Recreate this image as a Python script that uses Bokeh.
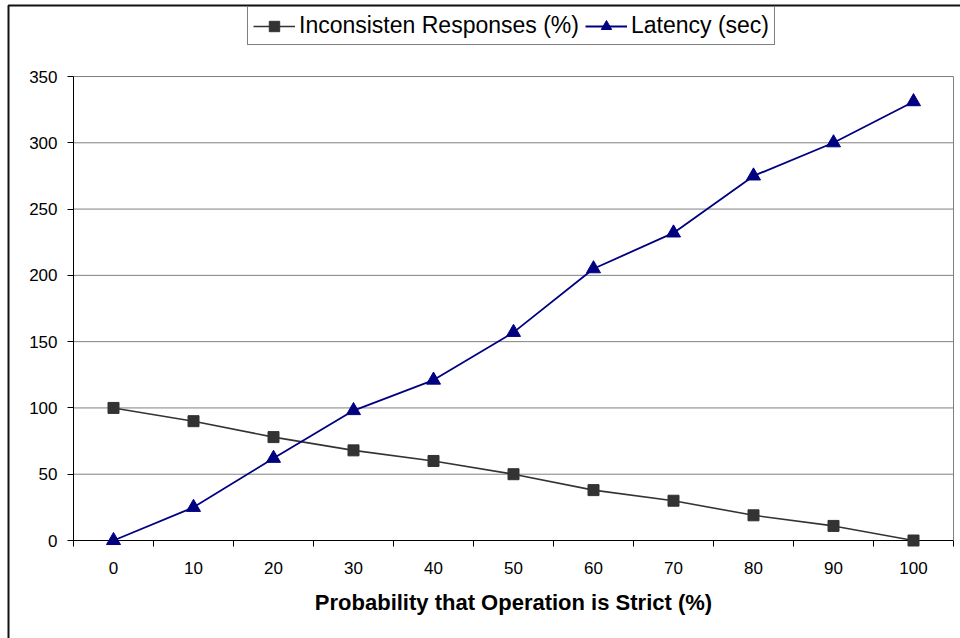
from bokeh.plotting import figure
from bokeh.models import (Range1d, FixedTicker, LinearAxis, Legend, LegendItem,
                          BoxAnnotation)
from bokeh.embed import file_html
from bokeh.resources import INLINE

# Probability that an operation is strict (%)
strict_pct = [0, 10, 20, 30, 40, 50, 60, 70, 80, 90, 100]
# Inconsistent responses (%)
inconsistent = [100, 90, 78, 68, 60, 50, 38, 30, 19, 11, 0]
# Latency (sec)
latency = [0, 25, 62, 98, 121, 157, 205, 232, 275, 300, 331]

y_ticks = [0, 50, 100, 150, 200, 250, 300, 350]

FONT = "Liberation Sans"
W, H = 960, 638
xs = list(range(len(strict_pct)))
n = len(xs)

# Canvas geometry of the plot area (pixels)
AREA_L, AREA_R, AREA_T, AREA_B = 73, 953, 76, 540
Y_MAX = 350

# The frame covers the whole canvas; ranges are chosen so that the
# category band [-0.5, n-0.5] and value band [0, 350] fill the plot area.
px_per_x = (AREA_R - AREA_L) / n
px_per_y = (AREA_B - AREA_T) / Y_MAX
x0 = -0.5 - AREA_L / px_per_x
x1 = -0.5 + (W - AREA_L) / px_per_x
y1 = AREA_B / px_per_y
y0 = -(H - AREA_B) / px_per_y

p = figure(width=W, height=H, output_backend="svg", toolbar_location=None,
           x_range=Range1d(x0, x1), y_range=Range1d(y0, y1),
           x_axis_location=None, y_axis_location=None,
           min_border_left=0, min_border_right=0, min_border_top=0,
           min_border_bottom=0)
p.outline_line_color = None
p.background_fill_color = "white"
p.border_fill_color = "white"
p.grid.visible = False

# outer chart border: top and left edges
p.add_layout(BoxAnnotation(left=x0 + 8 / px_per_x, top=y1 - 5 / px_per_y,
                           right=x1 + 5, bottom=y0 - 50,
                           fill_alpha=0, line_color="#111111", line_alpha=1,
                           line_width=2, level="underlay"))

# horizontal gridlines across the plot area only
p.segment(x0=[-0.5] * len(y_ticks), x1=[n - 0.5] * len(y_ticks),
          y0=y_ticks, y1=y_ticks, line_color="#808080", line_width=1,
          level="underlay")

# value axis
yax = LinearAxis(fixed_location=-0.5, bounds=(0, Y_MAX),
                 ticker=FixedTicker(ticks=y_ticks),
                 major_tick_out=6, major_tick_in=0,
                 minor_tick_out=0, minor_tick_in=0,
                 axis_line_color="black", major_tick_line_color="black",
                 major_label_text_font=FONT, major_label_text_font_size="17px",
                 major_label_text_color="black", major_label_standoff=10)
p.add_layout(yax, "left")

# right border of the plot area
rax = LinearAxis(fixed_location=n - 0.5, bounds=(0, Y_MAX),
                 ticker=FixedTicker(ticks=[]), axis_line_color="#808080",
                 major_tick_line_color=None, minor_tick_line_color=None,
                 major_label_text_font_size="0px")
p.add_layout(rax, "right")

# category axis: labels at category centres, ticks between categories
xax = LinearAxis(fixed_location=0, bounds=(-0.5, n - 0.5),
                 ticker=FixedTicker(ticks=xs, minor_ticks=[i - 0.5 for i in range(n + 1)]),
                 major_label_overrides={i: str(v) for i, v in zip(xs, strict_pct)},
                 major_tick_out=0, major_tick_in=0,
                 minor_tick_out=6, minor_tick_in=0,
                 minor_tick_line_color="black", axis_line_color="black",
                 major_label_text_font=FONT, major_label_text_font_size="17px",
                 major_label_text_color="black", major_label_standoff=15,
                 axis_label="Probability that Operation is Strict (%)",
                 axis_label_text_font=FONT, axis_label_text_font_size="22px",
                 axis_label_text_font_style="bold", axis_label_text_color="black",
                 axis_label_standoff=13)
p.add_layout(xax, "below")

grey = "#333333"
navy = "#000080"

l1 = p.line(xs, inconsistent, line_color=grey, line_width=1.6)
m1 = p.scatter(xs, inconsistent, marker="square", size=11, fill_color=grey,
               line_color=grey, level="overlay")
l2 = p.line(xs, latency, line_color=navy, line_width=1.8)
m2 = p.scatter(xs, latency, marker="triangle", size=14, fill_color=navy,
               line_color=navy, level="overlay")

legend = Legend(items=[LegendItem(label="Inconsisten Responses (%)", renderers=[l1, m1]),
                       LegendItem(label="Latency (sec)", renderers=[l2, m2])],
                orientation="horizontal", location=(247, H - 45),
                label_text_font=FONT, label_text_font_size="23px",
                label_text_color="black", glyph_width=42, glyph_height=26,
                label_standoff=4, spacing=6, padding=5, margin=0,
                border_line_color="black", border_line_width=1,
                background_fill_color="white", background_fill_alpha=1)
p.add_layout(legend, "center")

open("out.html", "w").write(file_html(p, INLINE))
